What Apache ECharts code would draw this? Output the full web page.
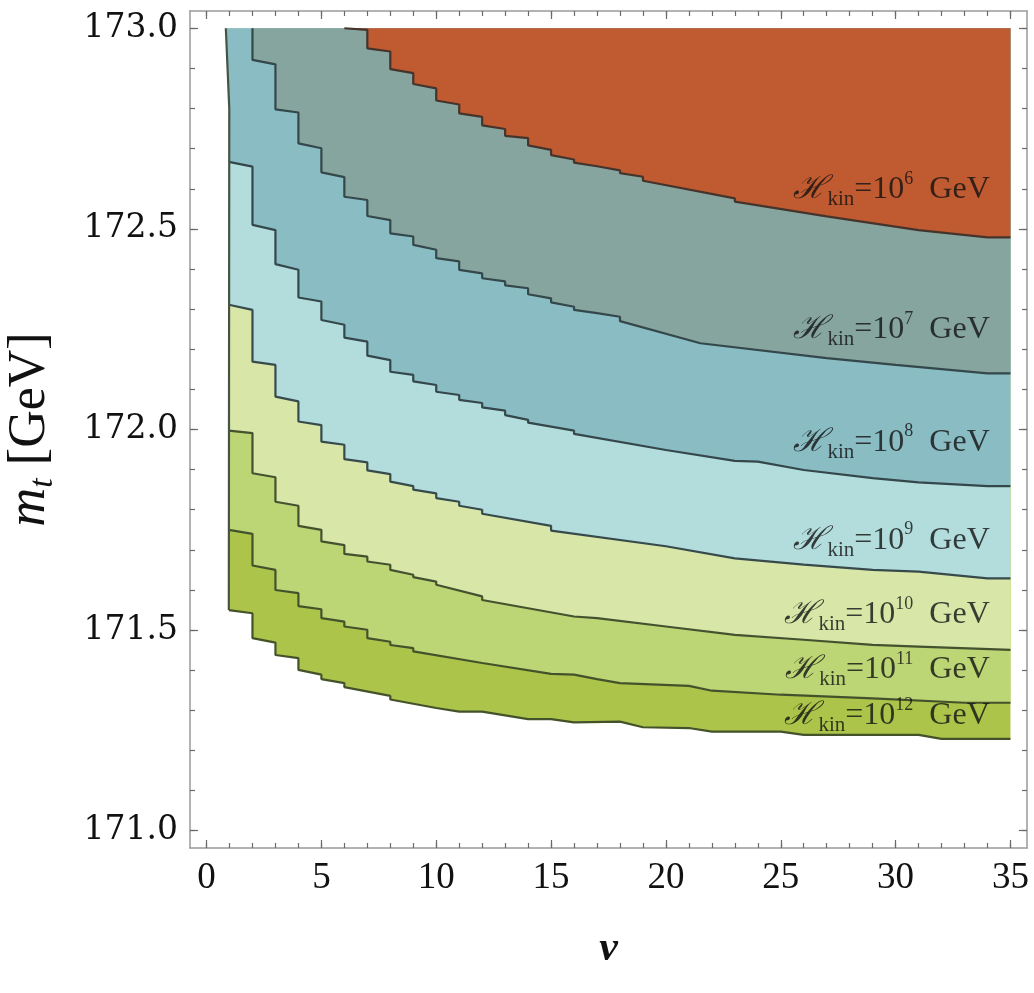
<!DOCTYPE html>
<html><head><meta charset="utf-8">
<script src="https://cdn.jsdelivr.net/npm/echarts@6/dist/echarts.min.js"></script>
<style>html,body{margin:0;padding:0;background:#fff}#c{width:1034px;height:993px}</style>
</head><body><div id="c"></div>
<script>
// ---------- data ----------
const xTickValues = [0, 5, 10, 15, 20, 25, 30, 35];
const xMinorValues = [0,1,2,3,4,5,6,7,8,9,10,11,12,13,14,15,16,17,18,19,20,21,22,23,24,25,26,27,28,29,30,31,32,33,34,35];
const yTickValues = [171.0, 171.5, 172.0, 172.5, 173.0];
const yMinorValues = [171.0,171.1,171.2,171.3,171.4,171.5,171.6,171.7,171.8,171.9,172.0,172.1,172.2,172.3,172.4,172.5,172.6,172.7,172.8,172.9,173.0];

const mtTop = 173.0;

// left boundary of the coloured region
const leftNu = [0.84, 0.99, 0.97];
const leftM  = [173.0, 172.80, 171.55];

// contour H_kin = 1e6 GeV
const c1Nu = [6, 7, 7, 8, 8, 9, 9, 10, 10, 11, 11, 12, 12, 13, 13, 14, 14, 15, 15, 16, 16, 17, 18, 18, 19, 19, 23, 23, 27, 31, 34, 35];
const c1M  = [173.0, 172.996, 172.950, 172.942, 172.898, 172.888, 172.861, 172.850, 172.820, 172.810, 172.788, 172.779, 172.758, 172.749, 172.732, 172.726, 172.708, 172.697, 172.684, 172.673, 172.665, 172.656, 172.646, 172.639, 172.630, 172.620, 172.576, 172.568, 172.531, 172.497, 172.479, 172.479];
// contour H_kin = 1e7 GeV
const c2Nu = [2, 2, 3, 3, 4, 4, 5, 5, 6, 6, 7, 7, 8, 8, 9, 9, 10, 10, 11, 11, 12, 12, 13, 13, 14, 14, 15, 15, 16, 16, 17, 18, 18, 21.5, 27, 30, 34, 35];
const c2M  = [173.0, 172.921, 172.910, 172.798, 172.790, 172.713, 172.701, 172.641, 172.629, 172.580, 172.572, 172.532, 172.522, 172.489, 172.481, 172.460, 172.448, 172.427, 172.419, 172.398, 172.389, 172.377, 172.369, 172.359, 172.352, 172.337, 172.327, 172.317, 172.306, 172.298, 172.290, 172.281, 172.270, 172.215, 172.178, 172.161, 172.140, 172.140];
// contour H_kin = 1e8 GeV
const c3Nu = [0.97, 2, 2, 3, 3, 4, 4, 5, 5, 6, 6, 7, 7, 8, 8, 9, 9, 10, 10, 11, 11, 12, 12, 13, 13, 14, 14, 16, 16, 20, 23, 24, 26, 29, 31, 34, 35];
const c3M  = [172.667, 172.655, 172.510, 172.497, 172.412, 172.398, 172.329, 172.319, 172.273, 172.261, 172.229, 172.219, 172.184, 172.173, 172.144, 172.136, 172.120, 172.111, 172.094, 172.086, 172.074, 172.066, 172.055, 172.047, 172.036, 172.024, 172.017, 171.997, 171.989, 171.949, 171.922, 171.920, 171.899, 171.879, 171.868, 171.859, 171.859];
// contour H_kin = 1e9 GeV
const c4Nu = [0.97, 2, 2, 3, 3, 4, 4, 5, 5, 6, 6, 7, 7, 8, 8, 9, 9, 10, 10, 11, 11, 12, 12, 15, 15, 20, 23, 26, 29, 31, 34, 35];
const c4M  = [172.311, 172.298, 172.169, 172.161, 172.082, 172.070, 172.020, 172.011, 171.970, 171.962, 171.926, 171.918, 171.898, 171.889, 171.870, 171.859, 171.850, 171.841, 171.829, 171.820, 171.810, 171.800, 171.790, 171.760, 171.748, 171.709, 171.679, 171.663, 171.650, 171.646, 171.629, 171.629];
// contour H_kin = 1e10 GeV
const c5Nu = [0.97, 2, 2, 3, 3, 4, 4, 5, 5, 6, 6, 7, 7, 8, 8, 9, 9, 10, 10, 12, 12, 16, 17, 20, 23, 26, 29, 31, 35];
const c5M  = [171.997, 171.991, 171.891, 171.881, 171.820, 171.810, 171.760, 171.750, 171.721, 171.712, 171.690, 171.683, 171.671, 171.663, 171.650, 171.638, 171.632, 171.621, 171.613, 171.584, 171.575, 171.534, 171.530, 171.509, 171.488, 171.476, 171.463, 171.459, 171.451];
// contour H_kin = 1e11 GeV
const c6Nu = [0.97, 2, 2, 3, 3, 4, 4, 5, 5, 6, 6, 7, 7, 8, 8, 9, 9, 12, 15, 16, 17, 18, 21, 22, 25, 29, 33, 35];
const c6M  = [171.750, 171.740, 171.661, 171.650, 171.600, 171.592, 171.560, 171.552, 171.530, 171.521, 171.509, 171.501, 171.480, 171.471, 171.463, 171.455, 171.447, 171.418, 171.391, 171.389, 171.378, 171.368, 171.361, 171.349, 171.339, 171.330, 171.319, 171.319];
// contour H_kin = 1e12 GeV
const c7Nu = [0.97, 2, 2, 3, 3, 4, 4, 5, 5, 6, 6, 8, 8, 10, 11, 12, 14, 15, 16, 18, 19, 21, 22, 25, 26, 31, 32, 35];
const c7M  = [171.550, 171.542, 171.480, 171.469, 171.438, 171.430, 171.401, 171.389, 171.378, 171.368, 171.358, 171.336, 171.327, 171.306, 171.297, 171.297, 171.278, 171.278, 171.270, 171.272, 171.258, 171.256, 171.247, 171.247, 171.239, 171.239, 171.229, 171.229];

const exponents = ['6', '7', '8', '9', '10', '11', '12'];
const labelNu = 34.1;
const labelM = [172.597, 172.248, 171.967, 171.723, 171.538, 171.401, 171.286];

// ---------- styling ----------
const regionColors = ['#C05A30', '#86A59F', '#8ABCC4', '#B3DDDD', '#D8E6A8', '#BCD575', '#ADC44B'];
const lineColors   = ['#45342c', '#34474a', '#34474a', '#374a4c', '#44522f', '#44522c', '#44522a'];

const curves = [
  {nu: c1Nu, m: c1M}, {nu: c2Nu, m: c2M}, {nu: c3Nu, m: c3M}, {nu: c4Nu, m: c4M},
  {nu: c5Nu, m: c5M}, {nu: c6Nu, m: c6M}, {nu: c7Nu, m: c7M}
];

const X_MIN = -0.72, X_MAX = 35.72, Y_MIN = 170.957, Y_MAX = 173.043;

// painting order: region above curve 7 first (darkest green) ... region above curve 1 last (red)
const layerOrder = [6, 5, 4, 3, 2, 1, 0];

const chart = echarts.init(document.getElementById('c'), null, {renderer: 'canvas'});

const frameColor = '#9a9a9a';
const tickColor = '#6a6a6a';
function mkX(pos, values, len, showLine, showLabel) {
  return {
    type: 'value', position: pos, min: X_MIN, max: X_MAX,
    axisLine: {show: showLine, onZero: false, lineStyle: {color: frameColor, width: 1.5}},
    axisTick: {show: true, inside: true, length: len, customValues: values, lineStyle: {color: tickColor, width: 1.2}},
    axisLabel: {show: showLabel, customValues: values, margin: 12, color: '#111',
      fontFamily: 'Liberation Serif', fontSize: 37, formatter: v => String(Math.round(v))},
    splitLine: {show: false}, minorTick: {show: false}
  };
}
function mkY(pos, values, len, showLine, showLabel) {
  return {
    type: 'value', position: pos, min: Y_MIN, max: Y_MAX,
    axisLine: {show: showLine, onZero: false, lineStyle: {color: frameColor, width: 1.5}},
    axisTick: {show: true, inside: true, length: len, customValues: values, lineStyle: {color: tickColor, width: 1.2}},
    axisLabel: {show: showLabel, customValues: values, margin: 12, color: '#111',
      fontFamily: 'DejaVu Serif', fontSize: 33, formatter: v => v.toFixed(1)},
    splitLine: {show: false}, minorTick: {show: false}
  };
}

const xAxes = [mkX('bottom', xTickValues, 8, true, true), mkX('bottom', xMinorValues, 5, false, false),
               mkX('top', xTickValues, 8, true, false), mkX('top', xMinorValues, 5, false, false)];
const yAxes = [mkY('left', yTickValues, 8, true, true), mkY('left', yMinorValues, 5, false, false),
               mkY('right', yTickValues, 8, true, false), mkY('right', yMinorValues, 5, false, false)];

xAxes[0].name = 'ν';
xAxes[0].nameLocation = 'middle';
xAxes[0].nameGap = 80;
xAxes[0].nameTextStyle = {fontFamily: 'Liberation Serif', fontStyle: 'italic', fontWeight: 'bold', fontSize: 42, color: '#111'};

yAxes[0].name = '{m|m}{t|t}{g| [GeV]}';
yAxes[0].nameLocation = 'middle';
yAxes[0].nameRotate = 90;
yAxes[0].nameGap = 130;
yAxes[0].nameTextStyle = {
  color: '#111', fontFamily: 'Liberation Serif', fontSize: 52,
  rich: {
    m: {fontFamily: 'Liberation Serif', fontStyle: 'italic', fontSize: 54, lineHeight: 60, color: '#111'},
    t: {fontFamily: 'Liberation Serif', fontStyle: 'italic', fontSize: 34, lineHeight: 32, verticalAlign: 'bottom', color: '#111'},
    g: {fontFamily: 'Liberation Serif', fontSize: 52, lineHeight: 60, color: '#111'}
  }
};

const series = [];

series.push({
  type: 'custom', xAxisIndex: 0, yAxisIndex: 0, z: 1, clip: true, silent: true,
  data: layerOrder.map(k => [curves[k].nu[0], curves[k].m[0]]),
  renderItem: function (params, api) {
    const k = layerOrder[params.dataIndex];
    const c = curves[k];
    const m0 = c.m[0];
    const pts = [];
    for (let i = 0; i < leftNu.length; i++) {
      if (leftM[i] > m0 + 1e-9) pts.push(api.coord([leftNu[i], leftM[i]]));
    }
    for (let i = 0; i < c.nu.length; i++) pts.push(api.coord([c.nu[i], c.m[i]]));
    pts.push(api.coord([c.nu[c.nu.length - 1], mtTop]));
    return {type: 'polygon', shape: {points: pts}, style: {fill: regionColors[k], stroke: null}};
  }
});

curves.forEach((c, k) => {
  series.push({
    type: 'line', xAxisIndex: 0, yAxisIndex: 0, z: 3, silent: true,
    symbol: 'none', showSymbol: false, animation: false,
    data: c.nu.map((n, i) => [n, c.m[i]]),
    lineStyle: {color: lineColors[k], width: 2.2}
  });
});

// left boundary stroke
series.push({
  type: 'line', xAxisIndex: 0, yAxisIndex: 0, z: 3, silent: true, symbol: 'none', showSymbol: false,
  data: leftNu.map((n, i) => [n, leftM[i]]),
  lineStyle: {color: '#465446', width: 2.2}
});

// contour labels
series.push({
  type: 'scatter', xAxisIndex: 0, yAxisIndex: 0, z: 5, silent: true, symbolSize: 0,
  itemStyle: {color: 'rgba(0,0,0,0)'},
  data: labelM.map((m, i) => ({
    value: [labelNu, m],
    label: {
      show: true, position: 'left', distance: 0,
      formatter: '{h|ℋ}{s|kin}{n|=10}{p|' + exponents[i] + '}{g|  GeV}',
      rich: {
        h: {fontFamily: 'DejaVu Serif', fontStyle: 'italic', fontSize: 32, lineHeight: 40, color: '#111'},
        s: {fontFamily: 'Liberation Serif', fontSize: 21, lineHeight: 22, verticalAlign: 'bottom', color: '#111'},
        n: {fontFamily: 'Liberation Serif', fontSize: 32, lineHeight: 40, color: '#111'},
        p: {fontFamily: 'Liberation Serif', fontSize: 18, lineHeight: 26, verticalAlign: 'top', color: '#111'},
        g: {fontFamily: 'Liberation Serif', fontSize: 32, lineHeight: 40, color: '#111'}
      }
    }
  }))
});

chart.setOption({
  animation: false,
  backgroundColor: '#ffffff',
  grid: {left: 190, top: 11, right: 7, bottom: 145, containLabel: false, outerBoundsMode: 'none'},
  xAxis: xAxes,
  yAxis: yAxes,
  series: series
});
</script>
</body></html>
